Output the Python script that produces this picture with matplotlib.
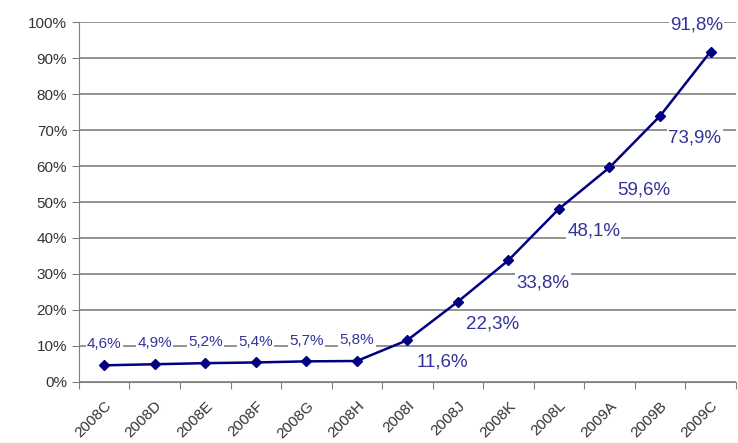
import matplotlib.pyplot as plt
from matplotlib.ticker import FuncFormatter
from matplotlib.transforms import ScaledTranslation

plt.rcParams['font.family'] = ['Liberation Sans', 'DejaVu Sans']

periods = ['2008C', '2008D', '2008E', '2008F', '2008G', '2008H', '2008I',
           '2008J', '2008K', '2008L', '2009A', '2009B', '2009C']
share = [4.6, 4.9, 5.2, 5.4, 5.7, 5.8, 11.6, 22.3, 33.8, 48.1, 59.6, 73.9, 91.8]
labels = ['4,6%', '4,9%', '5,2%', '5,4%', '5,7%', '5,8%', '11,6%', '22,3%',
          '33,8%', '48,1%', '59,6%', '73,9%', '91,8%']

fig = plt.figure(figsize=(7.38, 4.43), dpi=100)
ax = fig.add_axes([0.107, 0.138, 0.89, 0.812])

x = list(range(len(periods)))
ax.plot(x, share, color='#000080', lw=1.8, marker='D', ms=5, zorder=3)

ax.set_xlim(-0.5, len(periods) - 0.5)
ax.set_ylim(0, 100)
ax.set_yticks(range(0, 101, 10))
ax.yaxis.set_major_formatter(FuncFormatter(lambda v, p: f'{int(v)}%'))
ax.grid(axis='y', color='#808080', lw=1.2)
ax.set_axisbelow(True)

ax.set_xticks([i + 0.5 for i in range(-1, len(periods))], minor=False)
ax.set_xticklabels([])
ax.set_xticks(x, minor=True)
ax.set_xticklabels(periods, minor=True, rotation=45, ha='right',
                   rotation_mode='anchor', fontsize=11, color='#333333')
shift = ScaledTranslation(-6 / 72, 0, fig.dpi_scale_trans)
for lab in ax.get_xticklabels(minor=True):
    lab.set_transform(lab.get_transform() + shift)
ax.tick_params(axis='x', which='minor', length=0, pad=12)
ax.tick_params(axis='x', which='major', length=5, color='#808080')
ax.tick_params(axis='y', length=5, color='#808080', labelsize=11,
               labelcolor='#333333')

for s in ['top', 'right']:
    ax.spines[s].set_visible(False)
ax.spines['left'].set_color('#808080')
ax.spines['bottom'].set_color('#808080')

box = dict(facecolor='white', edgecolor='none', pad=1)
for i, (v, t) in enumerate(zip(share, labels)):
    if i < 6:
        off, fs = (0, 15), 11
    elif i < 12:
        off, fs = (25, -16), 13.5
    else:
        off, fs = (-10, 19), 13.5
    ax.annotate(t, (i, v), xytext=off, textcoords='offset points',
                ha='center', va='center', fontsize=fs, color='#333399',
                bbox=box, zorder=2)

fig.savefig('out.png')
